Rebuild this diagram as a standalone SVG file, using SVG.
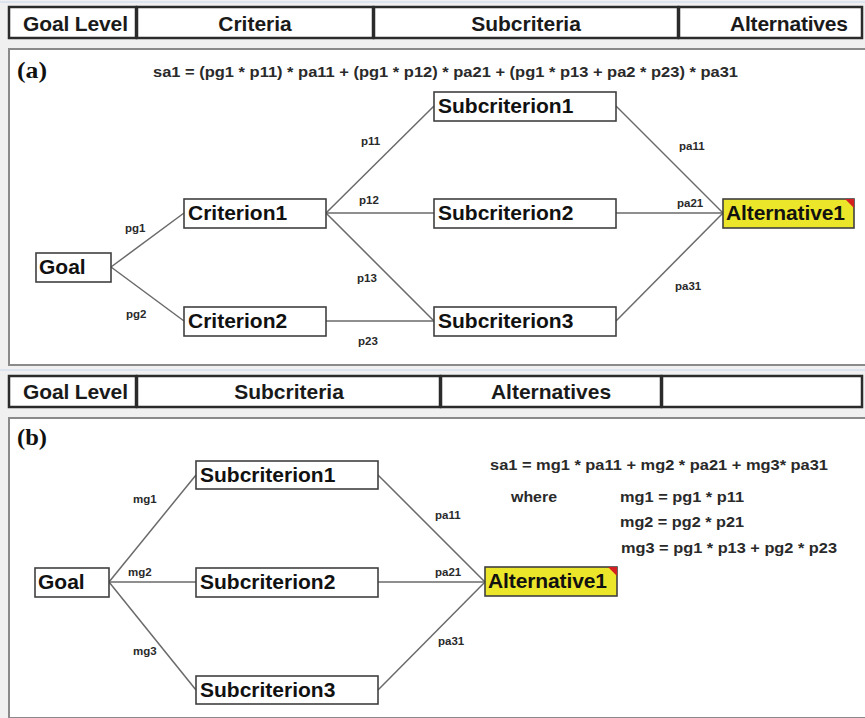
<svg xmlns="http://www.w3.org/2000/svg" width="865" height="718" viewBox="0 0 865 718">
<style>
.hdr{fill:#fff;stroke:#2b2b2b;stroke-width:2.5}
.ht{font-family:"Liberation Sans",Arial,sans-serif;font-weight:bold;font-size:21px;fill:#1a1a1a}
.panel{fill:#fff;stroke:#8a8a8a;stroke-width:2}
.box{fill:#fff;stroke:#404040;stroke-width:1.6}
.alt{fill:#ece62a;stroke:#404040;stroke-width:1.6}
.nt{font-family:"Liberation Sans",Arial,sans-serif;font-weight:bold;font-size:21px;fill:#111}
.lbl{font-family:"Liberation Sans",Arial,sans-serif;font-weight:bold;font-size:11.5px;fill:#2a2a2a}
.fm{font-family:"Liberation Sans",Arial,sans-serif;font-weight:bold;font-size:15.5px;fill:#2a2a2a}
.pl{font-family:"Liberation Serif","Times New Roman",serif;font-weight:bold;font-size:24px;fill:#111}
.cn{stroke:#6a6a6a;stroke-width:1.5;fill:none}
</style>
<rect x="0" y="0" width="865" height="718" fill="#f0f0f0"/>
<line x1="0" y1="2" x2="865" y2="2" stroke="#dce5ef" stroke-width="2"/>
<line x1="0" y1="370" x2="865" y2="370" stroke="#dce5ef" stroke-width="2"/>

<g id="header-a">
<rect class="hdr" x="9" y="7" width="127" height="31"/>
<rect class="hdr" x="137" y="7" width="236" height="31"/>
<rect class="hdr" x="374" y="7" width="304" height="31"/>
<rect class="hdr" x="679" y="7" width="183" height="31"/>
<text class="ht" x="23" y="31" textLength="105">Goal Level</text>
<text class="ht" x="255" y="31" text-anchor="middle">Criteria</text>
<text class="ht" x="526" y="31" text-anchor="middle">Subcriteria</text>
<text class="ht" x="730" y="31" textLength="118">Alternatives</text>
</g>

<g id="panel-a">
<rect class="panel" x="9" y="49" width="860" height="316"/>
<text class="pl" x="17" y="78" textLength="30" lengthAdjust="spacingAndGlyphs">(a)</text>
<text class="fm" x="153" y="77" textLength="585" lengthAdjust="spacingAndGlyphs">sa1 = (pg1 * p11) * pa11 + (pg1 * p12) * pa21 + (pg1 * p13 + pa2 * p23) * pa31</text>
</g>

<g id="connectors-a">
<line class="cn" x1="111" y1="267" x2="184" y2="213"/>
<line class="cn" x1="111" y1="267" x2="184" y2="321"/>
<line class="cn" x1="326" y1="213" x2="434" y2="106"/>
<line class="cn" x1="326" y1="213" x2="434" y2="213"/>
<line class="cn" x1="326" y1="213" x2="434" y2="321"/>
<line class="cn" x1="326" y1="321" x2="434" y2="321"/>
<line class="cn" x1="616" y1="106" x2="723" y2="213"/>
<line class="cn" x1="616" y1="213" x2="723" y2="213"/>
<line class="cn" x1="616" y1="321" x2="723" y2="213"/>
<text class="lbl" x="125" y="232">pg1</text>
<text class="lbl" x="126" y="318">pg2</text>
<text class="lbl" x="361" y="145">p11</text>
<text class="lbl" x="359" y="204">p12</text>
<text class="lbl" x="357" y="282">p13</text>
<text class="lbl" x="358" y="345">p23</text>
<text class="lbl" x="679" y="150">pa11</text>
<text class="lbl" x="677" y="207">pa21</text>
<text class="lbl" x="675" y="290">pa31</text>
</g>

<g id="a-goal"><rect class="box" x="36" y="253" width="75" height="29"/><text class="nt" x="39" y="274">Goal</text></g>
<g id="a-criterion1"><rect class="box" x="184" y="199" width="142" height="29"/><text class="nt" x="188" y="220">Criterion1</text></g>
<g id="a-criterion2"><rect class="box" x="184" y="307" width="142" height="29"/><text class="nt" x="188" y="328">Criterion2</text></g>
<g id="a-subcriterion1"><rect class="box" x="434" y="92" width="182" height="29"/><text class="nt" x="438" y="113">Subcriterion1</text></g>
<g id="a-subcriterion2"><rect class="box" x="434" y="199" width="182" height="29"/><text class="nt" x="438" y="220">Subcriterion2</text></g>
<g id="a-subcriterion3"><rect class="box" x="434" y="307" width="182" height="29"/><text class="nt" x="438" y="328">Subcriterion3</text></g>
<g id="a-alternative1"><rect class="alt" x="723" y="199" width="131" height="29"/><polygon points="845,199 854,199 854,208" fill="#d42020"/><text class="nt" x="726" y="220" textLength="119">Alternative1</text></g>

<g id="header-b">
<rect class="hdr" x="9" y="376" width="127" height="31"/>
<rect class="hdr" x="137" y="376" width="303" height="31"/>
<rect class="hdr" x="441" y="376" width="220" height="31"/>
<rect class="hdr" x="662" y="376" width="200" height="31"/>
<text class="ht" x="23" y="399" textLength="105">Goal Level</text>
<text class="ht" x="289" y="399" text-anchor="middle">Subcriteria</text>
<text class="ht" x="551" y="399" text-anchor="middle">Alternatives</text>
</g>

<g id="panel-b">
<rect class="panel" x="9" y="418" width="860" height="300"/>
<text class="pl" x="17" y="445" textLength="30" lengthAdjust="spacingAndGlyphs">(b)</text>
<text class="fm" x="490" y="470" textLength="338" lengthAdjust="spacingAndGlyphs">sa1 = mg1 * pa11 + mg2 * pa21 + mg3* pa31</text>
<text class="fm" x="511" y="502" textLength="46" lengthAdjust="spacingAndGlyphs">where</text>
<text class="fm" x="620" y="502" textLength="124" lengthAdjust="spacingAndGlyphs">mg1 = pg1 * p11</text>
<text class="fm" x="620" y="527" textLength="124" lengthAdjust="spacingAndGlyphs">mg2 = pg2 * p21</text>
<text class="fm" x="621" y="553" textLength="216" lengthAdjust="spacingAndGlyphs">mg3 = pg1 * p13 + pg2 * p23</text>
</g>

<g id="connectors-b">
<line class="cn" x1="109" y1="582" x2="196" y2="475"/>
<line class="cn" x1="109" y1="582" x2="196" y2="582"/>
<line class="cn" x1="109" y1="582" x2="196" y2="690"/>
<line class="cn" x1="378" y1="475" x2="485" y2="582"/>
<line class="cn" x1="378" y1="582" x2="485" y2="582"/>
<line class="cn" x1="378" y1="690" x2="485" y2="582"/>
<text class="lbl" x="133" y="503">mg1</text>
<text class="lbl" x="128" y="576">mg2</text>
<text class="lbl" x="133" y="655">mg3</text>
<text class="lbl" x="435" y="519">pa11</text>
<text class="lbl" x="435" y="576">pa21</text>
<text class="lbl" x="438" y="645">pa31</text>
</g>

<g id="b-goal"><rect class="box" x="35" y="568" width="74" height="29"/><text class="nt" x="38" y="589">Goal</text></g>
<g id="b-subcriterion1"><rect class="box" x="196" y="461" width="182" height="28"/><text class="nt" x="200" y="482">Subcriterion1</text></g>
<g id="b-subcriterion2"><rect class="box" x="196" y="568" width="182" height="29"/><text class="nt" x="200" y="589">Subcriterion2</text></g>
<g id="b-subcriterion3"><rect class="box" x="196" y="676" width="182" height="28"/><text class="nt" x="200" y="697">Subcriterion3</text></g>
<g id="b-alternative1"><rect class="alt" x="485" y="567" width="132" height="29"/><polygon points="608,567 617,567 617,576" fill="#d42020"/><text class="nt" x="488" y="588" textLength="119">Alternative1</text></g>
</svg>
